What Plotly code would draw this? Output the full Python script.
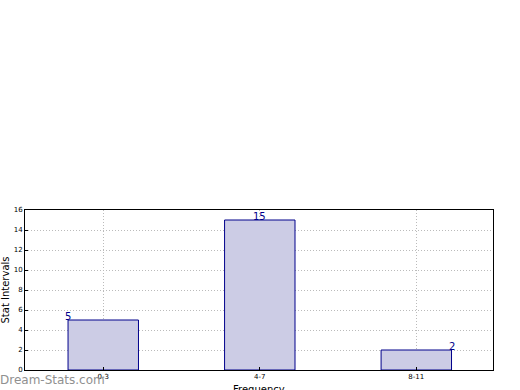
import plotly.graph_objects as go

categories = ["0-3", "4-7", "8-11"]
values = [5, 15, 2]
label_offsets = [-0.225, 0.0, 0.225]
y_ticks = [0, 2, 4, 6, 8, 10, 12, 14, 16]

xpos = list(range(len(categories)))

fig = go.Figure()
fig.add_trace(go.Bar(
    x=xpos, y=values, width=0.45,
    marker=dict(color="#CCCCE5", line=dict(color="#00008B", width=1)),
    hoverinfo="skip",
))
for i, v in enumerate(values):
    fig.add_annotation(x=xpos[i] + label_offsets[i], y=v, text=str(v),
                       showarrow=False, yanchor="bottom", yshift=-4,
                       font=dict(family="DejaVu Sans", size=10, color="#00008B"))

fig.add_annotation(xref="paper", yref="paper", x=-0.057, y=-0.0625,
                   xanchor="left", yanchor="middle", showarrow=False,
                   text="Dream-Stats.com",
                   font=dict(family="DejaVu Sans", size=12, color="#909090"))

# x-axis title placed below tick labels (partly cropped like the reference)
fig.add_annotation(xref="paper", yref="paper", x=0.5, y=-0.078,
                   xanchor="center", yanchor="top", showarrow=False,
                   text="Frequency",
                   font=dict(family="DejaVu Sans", size=10, color="black"))

grid = dict(showgrid=True, gridcolor="#BBBBBB", griddash="1px,2px", gridwidth=1,
            showline=True, linecolor="black", linewidth=1, mirror=True,
            ticks="inside", ticklen=3, tickcolor="black",
            zeroline=False, automargin=False)

fig.update_layout(
    width=520, height=390,
    margin=dict(l=25, r=27, t=210, b=20),
    paper_bgcolor="white", plot_bgcolor="white",
    showlegend=False,
    font=dict(family="DejaVu Sans", size=7, color="black"),
    xaxis=dict(range=[-0.5, 2.49], tickvals=xpos, ticktext=categories, **grid),
    yaxis=dict(range=[0, 16], tickvals=y_ticks,
               title=dict(text="Stat Intervals", font=dict(size=10), standoff=2),
               **grid),
)

fig.write_html("out.html")
